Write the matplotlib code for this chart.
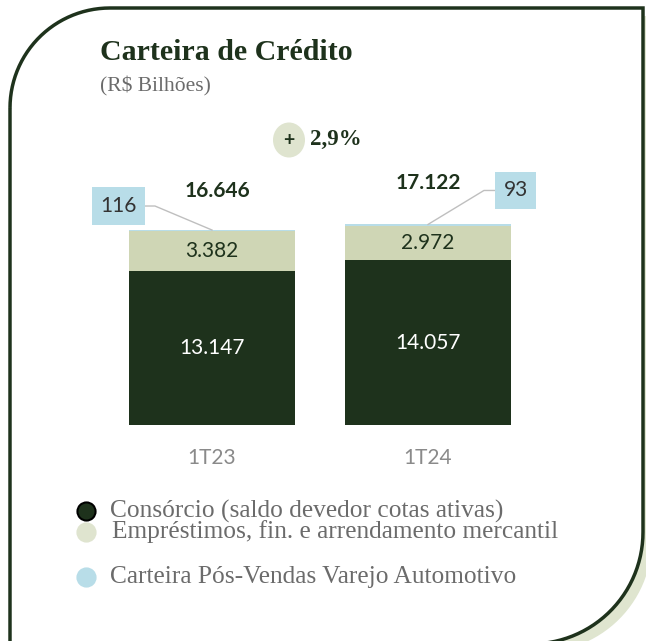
import matplotlib.pyplot as plt
import numpy as np
from matplotlib.path import Path
from matplotlib.patches import PathPatch, Ellipse, Rectangle

# Data
categories = ["1T23", "1T24"]
consorcio = [13147, 14057]
emprestimos = [3382, 2972]
pos_vendas = [116, 93]
totais = ["16.646", "17.122"]
consorcio_labels = ["13.147", "14.057"]
emprestimos_labels = ["3.382", "2.972"]
pos_vendas_labels = ["116", "93"]
legend_labels = [
    "Consórcio (saldo devedor cotas ativas)",
    "Empréstimos, fin. e arrendamento mercantil",
    "Carteira Pós-Vendas Varejo Automotivo",
]

dark = "#1e321c"
tan = "#cfd6b5"
blue = "#b8dde8"
shadow = "#dfe5cf"
grey = "#6b6b6b"
serif = ["Liberation Serif", "DejaVu Serif"]
sans = ["Lato", "DejaVu Sans"]

W, H = 646, 641
fig = plt.figure(figsize=(W / 100, H / 100), dpi=100)

# background axes in pixel coordinates (y down)
bg = fig.add_axes([0, 0, 1, 1])
bg.set_xlim(0, W)
bg.set_ylim(H, 0)
bg.axis("off")


def frame_path(x0, y0, x1, y1, r1, r2):
    verts = []
    codes = []
    verts.append((x0, y1 + 20)); codes.append(Path.MOVETO)
    verts.append((x0, y0 + r1)); codes.append(Path.LINETO)
    t = np.linspace(np.pi, 1.5 * np.pi, 30)
    for a in t:
        verts.append((x0 + r1 + r1 * np.cos(a), y0 + r1 + r1 * np.sin(a))); codes.append(Path.LINETO)
    verts.append((x1, y0)); codes.append(Path.LINETO)
    verts.append((x1, y1 - r2)); codes.append(Path.LINETO)
    t = np.linspace(0, 0.5 * np.pi, 30)
    for a in t:
        verts.append((x1 - r2 + r2 * np.cos(a), y1 - r2 + r2 * np.sin(a))); codes.append(Path.LINETO)
    verts.append((x0, y1)); codes.append(Path.LINETO)
    return Path(verts, codes)


# shadow
bg.add_patch(PathPatch(frame_path(20, 16, 652, 652, 100, 112), facecolor=shadow, edgecolor="none", zorder=0))
# main frame
bg.add_patch(PathPatch(frame_path(10, 8, 643, 644, 100, 112), facecolor="white", edgecolor=dark, lw=2.5, zorder=1))

# titles
bg.text(100, 53, "Carteira de Crédito", family=serif, fontsize=21.5, fontweight="bold", color=dark, va="center")
bg.text(100, 86, "(R$ Bilhões)", family=serif, fontsize=15.5, color=grey, va="center")

# growth badge
bg.add_patch(Ellipse((289, 140), 32, 35, facecolor="#dfe4cf", edgecolor="none", zorder=2))
bg.text(289, 140, "+", family=sans, fontsize=14, fontweight="bold", color=dark, ha="center", va="center", zorder=3)
bg.text(310, 139, "2,9%", family=serif, fontsize=16.5, fontweight="bold", color=dark, ha="left", va="center", zorder=3)

# legend
leg_y = [511, 532, 577]
leg_x = [110, 112, 110]
leg_colors = [dark, "#dfe4cf", blue]
leg_edges = ["black", "#dfe4cf", blue]
for x, y, c, e, lab in zip(leg_x, leg_y, leg_colors, leg_edges, legend_labels):
    bg.scatter([86], [y], s=170, color=c, edgecolors=e, linewidths=1.5, zorder=3)
    bg.text(x, y, lab, family=serif, fontsize=18.3, color=grey, va="center", zorder=3)

# bar axes
px_per_unit = 154 / 13147.0
ax_l, ax_r, ax_t, ax_b = 80, 560, 160, 425
ax = fig.add_axes([ax_l / W, (H - ax_b) / H, (ax_r - ax_l) / W, (ax_b - ax_t) / H])
ax.set_ylim(0, (ax_b - ax_t) / px_per_unit)
xs = np.arange(len(categories))
ax.set_xlim((ax_l - 212) / 216, (ax_r - 212) / 216)
ax.patch.set_alpha(0)
ax.axis("off")
bw = 166 / 216

b1 = ax.bar(xs, consorcio, width=bw, color=dark, zorder=2)
b2 = ax.bar(xs, emprestimos, width=bw, bottom=consorcio, color=tan, zorder=2)
bot3 = np.array(consorcio) + np.array(emprestimos)
b3 = ax.bar(xs, pos_vendas, width=bw, bottom=bot3, color=blue, zorder=2)

for i in range(len(categories)):
    ax.text(xs[i], consorcio[i] / 2, consorcio_labels[i], family=sans, fontsize=15, color="white", ha="center", va="center")
    ax.text(xs[i], consorcio[i] + emprestimos[i] / 2, emprestimos_labels[i], family=sans, fontsize=15, color=dark, ha="center", va="center")
    ax.text(xs[i], -2850, categories[i], family=sans, fontsize=15, color="#8a8a8a", ha="center", va="center", clip_on=False)

# totals
tot_off = [3300, 3500]
tot_dx = [0.023, 0.0]
for i in range(len(categories)):
    top = bot3[i] + pos_vendas[i]
    ax.text(xs[i] + tot_dx[i], top + tot_off[i], totais[i], family=sans, fontsize=15, fontweight="bold", color=dark, ha="center", va="center")

# pos-vendas callouts
box_x = [-0.433, 1.407]
box_dy = [2050, 2900]
box_w = [0.245, 0.19]
elbow = [-0.264, 1.259]
for i in range(len(categories)):
    top = bot3[i] + pos_vendas[i]
    by = top + box_dy[i]
    ax.add_patch(Rectangle((box_x[i] - box_w[i] / 2, by - 1600), box_w[i], 3200, facecolor=blue, edgecolor="none", zorder=3, clip_on=False))
    ax.text(box_x[i], by, pos_vendas_labels[i], family=sans, fontsize=15, color="#333333", ha="center", va="center", zorder=4)
    edge = box_x[i] + (box_w[i] / 2 if i == 0 else -box_w[i] / 2)
    ax.plot([edge, elbow[i], xs[i]], [by, by, top], color="#bfbfbf", lw=1, zorder=2, clip_on=False)

fig.savefig("out.png", dpi=100)
